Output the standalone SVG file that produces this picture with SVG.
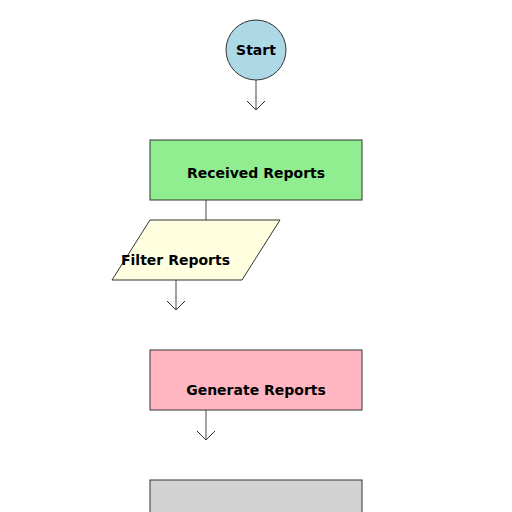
<svg xmlns="http://www.w3.org/2000/svg" width="512" height="512" viewBox="0 0 512 512">
<style>
.n{stroke:#333;stroke-width:1}
.t{font-family:"DejaVu Sans",sans-serif;font-weight:bold;font-size:14px;fill:#000}
.c{stroke:#666;stroke-width:1.2;fill:none}
</style>
<defs>
<marker id="a" markerWidth="20" markerHeight="20" refX="10" refY="10" markerUnits="userSpaceOnUse" orient="auto">
<path d="M1,1 L10,10 L1,19" fill="none" stroke="#333" stroke-width="1"/>
</marker>
</defs>
<rect width="512" height="512" fill="#fff"/>
<g id="connectors">
<line class="c" x1="256" y1="80" x2="256" y2="110" marker-end="url(#a)"/>
<line class="c" x1="206" y1="200" x2="206" y2="220"/>
<line class="c" x1="176" y1="280" x2="176" y2="310" marker-end="url(#a)"/>
<line class="c" x1="206" y1="410" x2="206" y2="440" marker-end="url(#a)"/>
</g>
<g id="start">
<circle class="n" cx="256" cy="50" r="30" fill="#ADD8E6"/>
<text class="t" x="256" y="55" text-anchor="middle">Start</text>
</g>
<g id="received">
<rect class="n" x="150" y="140" width="212" height="60" fill="#90EE90"/>
<text class="t" x="256" y="178" text-anchor="middle">Received Reports</text>
</g>
<g id="filter">
<polygon class="n" points="150,220 280,220 242,280 112,280" fill="#FFFFE0"/>
<text class="t" x="121" y="265">Filter Reports</text>
</g>
<g id="generate">
<rect class="n" x="150" y="350" width="212" height="60" fill="#FFB6C1"/>
<text class="t" x="256" y="395" text-anchor="middle">Generate Reports</text>
</g>
<g id="next">
<rect class="n" x="150" y="480" width="212" height="60" fill="#D3D3D3"/>
</g>
</svg>
